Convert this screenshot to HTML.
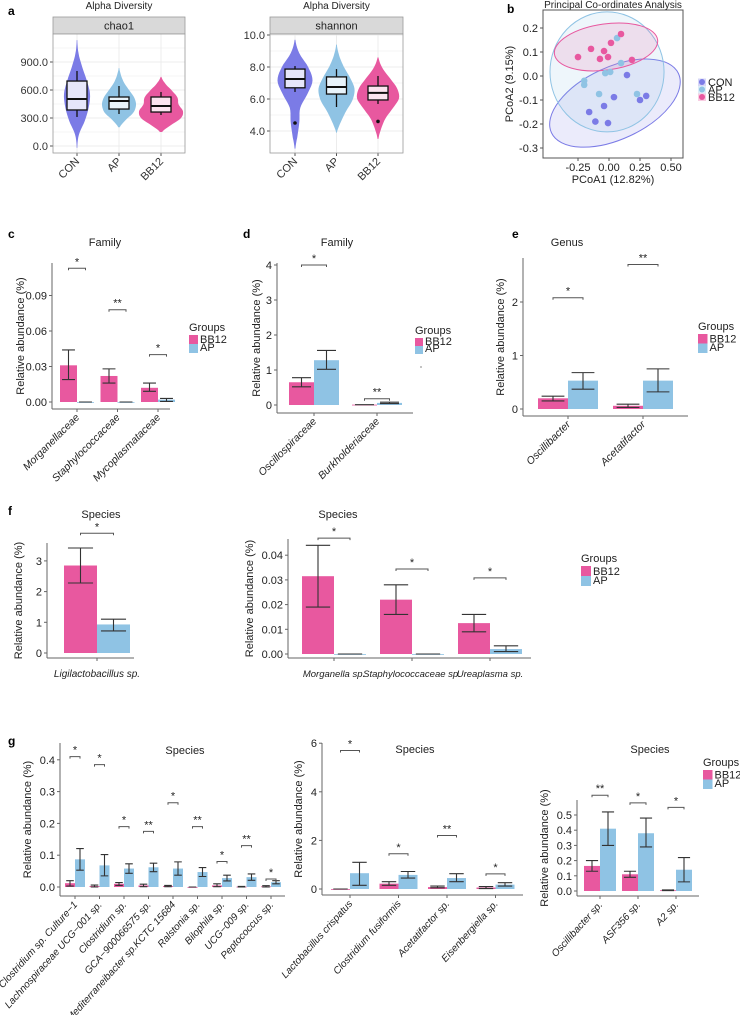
<!DOCTYPE html>
<html><head><meta charset="utf-8"><style>
html,body{margin:0;padding:0;background:#fff}
svg{display:block;font-family:"Liberation Sans",Arial,sans-serif}
</style></head><body>
<svg id="fig" width="740" height="1015" viewBox="0 0 740 1015" xmlns="http://www.w3.org/2000/svg"></svg>
<script>
// ---------- DATA ----------
const violinCats = ['CON','AP','BB12'];
const chao1Min = [311,343,332];
const chao1Q1 = [386,396,364];
const chao1Med = [504,482,429];
const chao1Q3 = [696,525,525];
const chao1Max = [804,643,579];
const chao1Lo = [-20,200,150];
const chao1Hi = [1135,836,740];
const chao1ProfCON = [0.02,0.15,0.6,0.9,1,0.75,0.4,0.12,0.02];
const chao1ProfAP = [0.05,0.4,0.85,1,0.9,0.6,0.3,0.12,0.02];
const chao1ProfBB12 = [0.05,0.45,0.9,1,0.8,0.75,0.5,0.2,0.02];
const chao1Ticks = [0,300,600,900];
const chao1TickLabels = ['0.0','300.0','600.0','900.0'];

const shanMin = [6.44,5.5,5.69];
const shanQ1 = [6.7,6.31,5.94];
const shanMed = [7.25,6.75,6.38];
const shanQ3 = [7.87,7.38,6.81];
const shanMax = [8.06,7.87,7.44];
const shanOut = [4.5,null,4.6];
const shanLo = [2.9,3.9,3.5];
const shanHi = [9.7,9.4,8.6];
const shanProfCON = [0.02,0.15,0.25,0.3,0.7,1,0.75,0.25,0.02];
const shanProfAP = [0.02,0.25,0.55,0.9,1,0.75,0.4,0.15,0.02];
const shanProfBB12 = [0.02,0.15,0.35,0.7,1,0.9,0.55,0.2,0.02];
const shanTicks = [4,6,8,10];
const shanTickLabels = ['4.0','6.0','8.0','10.0'];

const pcoaConX = [0.145,0.04,-0.04,-0.16,-0.11,-0.008,0.25,0.3];
const pcoaConY = [0.004,-0.088,-0.125,-0.15,-0.19,-0.196,-0.1,-0.083];
const pcoaApX = [-0.2,-0.2,-0.08,-0.03,0.01,0.065,0.097,0.226];
const pcoaApY = [-0.02,-0.037,-0.075,0.012,0.017,0.158,0.054,-0.075];
const pcoaBbX = [-0.25,-0.145,-0.073,-0.04,-0.008,0.016,0.097,0.185];
const pcoaBbY = [0.079,0.113,0.071,0.104,0.079,0.138,0.175,0.067];
const pcoaXTicks = [-0.25,0,0.25,0.5];
const pcoaXTickLabels = ['-0.25','0.00','0.25','0.50'];
const pcoaYTicks = [-0.3,-0.2,-0.1,0,0.1,0.2];
const pcoaYTickLabels = ['-0.3','-0.2','-0.1','0.0','0.1','0.2'];
const ellCx = [0.048,-0.016,-0.024];
const ellCy = [-0.113,0.017,0.121];
const ellRx = [0.565,0.46,0.42];
const ellRy = [0.15,0.25,0.096];
const ellAngle = [-25,0,-8];

const cCats = ['Morganellaceae','Staphylococcaceae','Mycoplasmataceae'];
const cBB = [0.031,0.022,0.012]; const cBBLo=[0.019,0.016,0.009]; const cBBHi=[0.044,0.028,0.016];
const cAP = [0,0,0.002]; const cAPLo=[0,0,0.0005]; const cAPHi=[0,0,0.003];
const cSig = ['*','**','*']; const cSigVal=[0.113,0.078,0.04];
const cTicks=[0,0.03,0.06,0.09]; const cTickLabels=['0.00','0.03','0.06','0.09'];

const dCats = ['Oscillospiraceae','Burkholderiaceae'];
const dBB=[0.65,0.01]; const dBBLo=[0.52,0.01]; const dBBHi=[0.78,0.01];
const dAP=[1.28,0.06]; const dAPLo=[1.02,0.04]; const dAPHi=[1.56,0.08];
const dSig=['*','**']; const dSigVal=[4.0,0.18];
const dTicks=[0,1,2,3,4]; const dTickLabels=['0','1','2','3','4'];

const eCats=['Oscillibacter','Acetatifactor'];
const eBB=[0.2,0.06]; const eBBLo=[0.15,0.03]; const eBBHi=[0.24,0.09];
const eAP=[0.53,0.53]; const eAPLo=[0.37,0.32]; const eAPHi=[0.68,0.75];
const eSig=['*','**']; const eSigVal=[2.08,2.7];
const eTicks=[0,1,2]; const eTickLabels=['0','1','2'];

const f1Cats=['Ligilactobacillus sp.'];
const f1BB=[2.85]; const f1BBLo=[2.28]; const f1BBHi=[3.42];
const f1AP=[0.93]; const f1APLo=[0.72]; const f1APHi=[1.1];
const f1Sig=['*']; const f1SigVal=[3.9];
const f1Ticks=[0,1,2,3]; const f1TickLabels=['0','1','2','3'];

const f2Cats=['Morganella sp.','Staphylococcaceae sp.','Ureaplasma sp.'];
const f2BB=[0.0315,0.022,0.0125]; const f2BBLo=[0.019,0.016,0.009]; const f2BBHi=[0.044,0.028,0.016];
const f2AP=[0,0,0.002]; const f2APLo=[0,0,0.001]; const f2APHi=[0,0,0.0033];
const f2Sig=['*','*','*']; const f2SigVal=[0.0469,0.0344,0.0308];
const f2Ticks=[0,0.01,0.02,0.03,0.04]; const f2TickLabels=['0.00','0.01','0.02','0.03','0.04'];

const g1Cats=['Clostridium sp. Culture\u22121','Lachnospiraceae UCG\u2212001 sp.','Clostridium sp.','GCA\u2212900066575 sp.','Mediterraneibacter sp.KCTC 15684','Ralstonia sp.','Bilophila sp.','UCG\u2212009 sp.','Peptococcus sp.'];
const g1BB=[0.012,0.003,0.01,0.005,0.003,0.0,0.005,0.001,0.002];
const g1BBLo=[0.003,0,0.005,0.001,0.001,0,0.001,0,0];
const g1BBHi=[0.02,0.006,0.014,0.009,0.005,0,0.01,0.002,0.004];
const g1AP=[0.087,0.068,0.058,0.062,0.058,0.047,0.028,0.031,0.015];
const g1APLo=[0.053,0.035,0.043,0.048,0.037,0.033,0.019,0.021,0.01];
const g1APHi=[0.121,0.102,0.073,0.075,0.079,0.061,0.037,0.041,0.02];
const g1Sig=['*','*','*','**','*','**','*','**','*'];
const g1SigVal=[0.41,0.385,0.19,0.175,0.265,0.19,0.08,0.13,0.025];
const g1Ticks=[0,0.1,0.2,0.3,0.4]; const g1TickLabels=['0.0','0.1','0.2','0.3','0.4'];

const g2Cats=['Lactobacillus crispatus','Clostridium fusiformis','Acetatifactor sp.','Eisenbergiella sp.'];
const g2BB=[0.0,0.22,0.08,0.06]; const g2BBLo=[0,0.15,0.05,0.02]; const g2BBHi=[0,0.3,0.12,0.1];
const g2AP=[0.65,0.58,0.45,0.18]; const g2APLo=[0.15,0.45,0.3,0.12]; const g2APHi=[1.1,0.72,0.63,0.26];
const g2Sig=['*','*','**','*']; const g2SigVal=[5.7,1.45,2.2,0.62];
const g2Ticks=[0,2,4,6]; const g2TickLabels=['0','2','4','6'];

const g3Cats=['Oscillibacter sp.','ASF356 sp.','A2 sp.'];
const g3BB=[0.165,0.11,0.005]; const g3BBLo=[0.13,0.09,0.003]; const g3BBHi=[0.2,0.13,0.007];
const g3AP=[0.41,0.38,0.14]; const g3APLo=[0.3,0.29,0.06]; const g3APHi=[0.52,0.48,0.22];
const g3Sig=['**','*','*']; const g3SigVal=[0.63,0.58,0.55];
const g3Ticks=[0,0.1,0.2,0.3,0.4,0.5]; const g3TickLabels=['0.0','0.1','0.2','0.3','0.4','0.5'];

// ---------- HELPERS ----------
const NS='http://www.w3.org/2000/svg';
const svg=document.getElementById('fig');
const PINK='#e8589f', BLUE='#8fc3e4', PURPLE='#7b7be6';
function mk(tag, attrs, parent){const e=document.createElementNS(NS,tag);for(const k in attrs)e.setAttribute(k,attrs[k]);(parent||svg).appendChild(e);return e;}
function tx(str,x,y,attrs,parent){const e=mk('text',Object.assign({x:x,y:y,'font-size':11,fill:'#222'},attrs||{}),parent);e.textContent=str;return e;}
function catmull(p,n){const out=[];const m=p.length-1;for(let i=0;i<=n;i++){const t=i/n*m;const k=Math.min(Math.floor(t),m-1);const u=t-k;const p0=p[Math.max(k-1,0)],p1=p[k],p2=p[k+1],p3=p[Math.min(k+2,m)];out.push(0.5*((2*p1)+(-p0+p2)*u+(2*p0-5*p1+4*p2-p3)*u*u+(-p0+3*p1-3*p2+p3)*u*u*u));}return out;}

function panelLetter(ch,x,y){const e=tx(ch,x,y,{'font-weight':'bold','font-size':12,fill:'#000'});

}

// ---------- VIOLIN PANEL ----------
function violinPanel(o){
  const g=mk('g',{});
  
  
  const yv=v=>o.y0+(o.vMax-v)*o.ppu;
  const t=tx('Alpha Diversity',(o.x1+o.x2)/2,9,{'text-anchor':'middle','font-size':10},g);
  
  
  const strip=mk('rect',{x:o.x1,y:17,width:o.x2-o.x1,height:17,fill:'#d9d9d9',stroke:'#999','stroke-width':0.8},g);
  
  
  const st=tx(o.strip,(o.x1+o.x2)/2,29.5,{'text-anchor':'middle','font-size':11},g);
  
  
  const bg=mk('rect',{x:o.x1,y:34,width:o.x2-o.x1,height:119,fill:'#fff'},g);
  
  
  for(let i=0;i<o.ticks.length;i++){
    const y=yv(o.ticks[i]);
    const gl=mk('line',{x1:o.x1,x2:o.x2,y1:y,y2:y,stroke:'#ececec','stroke-width':1},g);
    
    
    const ym=yv(o.ticks[i]+o.step/2);
    if(ym>34&&ym<153){const gm=mk('line',{x1:o.x1,x2:o.x2,y1:ym,y2:ym,stroke:'#f5f5f5','stroke-width':1},g);
    
    }
    const tk=mk('line',{x1:o.x1-3,x2:o.x1,y1:y,y2:y,stroke:'#555'},g);
    
    
    const tl=tx(o.tickLabels[i],o.x1-5,y+4,{'text-anchor':'end','font-size':11,fill:'#333'},g);
    
    
  }
  const cols=[PURPLE,BLUE,PINK];
  const boxFill=['#e6e6fa','#e8f3fa','#fbe4ef'];
  for(let i=0;i<violinCats.length;i++){
    const cx=o.cx0+i*o.dx;
    const gl=mk('line',{x1:cx,x2:cx,y1:34,y2:153,stroke:'#ececec'},g);
    
    
  }
  for(let i=0;i<violinCats.length;i++){
    const cx=o.cx0+i*o.dx;
    const prof=catmull(o.prof[i],40);
    const lo=o.lo[i],hi=o.hi[i];
    let d='';
    prof.forEach((w,k)=>{const v=lo+(hi-lo)*k/40;d+=(k?'L':'M')+(cx+o.hw[i]*Math.max(w,0.01)).toFixed(1)+' '+yv(v).toFixed(1);});
    for(let k=40;k>=0;k--){const v=lo+(hi-lo)*k/40;d+='L'+(cx-o.hw[i]*Math.max(prof[k],0.01)).toFixed(1)+' '+yv(v).toFixed(1);}
    const vp=mk('path',{d:d+'Z',fill:cols[i],stroke:'none'},g);
    
    
    const wl=mk('line',{x1:cx,x2:cx,y1:yv(o.min[i]),y2:yv(o.max[i]),stroke:'#111','stroke-width':1.3},g);
    
    
    const bw=20;
    const bx=mk('rect',{x:cx-bw/2,y:yv(o.q3[i]),width:bw,height:yv(o.q1[i])-yv(o.q3[i]),fill:boxFill[i],stroke:'#111','stroke-width':1.3},g);
    
    
    const md=mk('line',{x1:cx-bw/2,x2:cx+bw/2,y1:yv(o.med[i]),y2:yv(o.med[i]),stroke:'#111','stroke-width':2},g);
    
    
    if(o.out&&o.out[i]!=null){const oc=mk('circle',{cx:cx,cy:yv(o.out[i]),r:1.8,fill:'#111'},g);
    
    }
    const xt=mk('line',{x1:cx,x2:cx,y1:153,y2:156,stroke:'#555'},g);
    
    
    const xl=tx(violinCats[i],cx+3,162,{'text-anchor':'end','font-size':11,fill:'#333',transform:'rotate(-45 '+(cx+3)+' 162)'},g);
    
    
  }
  const fr=mk('rect',{x:o.x1,y:34,width:o.x2-o.x1,height:119,fill:'none',stroke:'#999','stroke-width':0.8},g);
  
  
}

// ---------- BAR PANEL ----------
function legend(x,y,sw,g){
  const lt=tx('Groups',x,y,{'font-size':11},g);
  
  
  const r1=mk('rect',{x:x,y:y+4,width:sw,height:sw,fill:PINK},g);
  
  
  const l1=tx('BB12',x+sw+2,y+4+sw-1,{'font-size':11},g);
  
  
  const r2=mk('rect',{x:x,y:y+4+sw,width:sw,height:sw,fill:BLUE},g);
  
  
  const l2=tx('AP',x+sw+2,y+4+2*sw-2,{'font-size':11},g);
  
  
}
function barPanel(o){
  const g=mk('g',{});
  
  
  const yv=v=>o.y0-v*o.ppu;
  if(o.title){const t=tx(o.title[0],o.title[1],o.title[2],{'text-anchor':'middle','font-size':11},g);
  
  }
  const ya=mk('line',{x1:o.x0,x2:o.x0,y1:o.yTop,y2:o.yBot,stroke:'#666','stroke-width':1},g);
  
  
  const xa=mk('line',{x1:o.x0,x2:o.xEnd,y1:o.yBot,y2:o.yBot,stroke:'#666','stroke-width':1},g);
  
  
  for(let i=0;i<o.ticks.length;i++){
    const y=yv(o.ticks[i]);
    const tk=mk('line',{x1:o.x0-3,x2:o.x0,y1:y,y2:y,stroke:'#666'},g);
    
    
    const tl=tx(o.tickLabels[i],o.x0-5,y+4,{'text-anchor':'end','font-size':11,fill:'#222'},g);
    
    
  }
  const ym=(o.yTop+o.yBot)/2;
  const yt=tx('Relative abundance (%)',o.yLabX,ym,{'text-anchor':'middle','font-size':11,transform:'rotate(-90 '+o.yLabX+' '+ym+')'},g);
  
  
  const w=o.w;
  for(let i=0;i<o.cats.length;i++){
    const c=o.c0+i*o.dc;
    const b1=mk('rect',{x:c-w,y:yv(o.bb[i]),width:w,height:Math.max(o.bb[i]*o.ppu,0.8),fill:PINK},g);
    
    
    const b2=mk('rect',{x:c,y:yv(o.ap[i]),width:w,height:Math.max(o.ap[i]*o.ppu,0.8),fill:BLUE},g);
    
    
    [[c-w/2,o.bbLo[i],o.bbHi[i]],[c+w/2,o.apLo[i],o.apHi[i]]].forEach(function(eb,k){
      const cw=w*0.38;
      const v=mk('path',{d:'M'+(eb[0]-cw)+' '+yv(eb[2])+'H'+(eb[0]+cw)+'M'+eb[0]+' '+yv(eb[2])+'V'+yv(eb[1])+'M'+(eb[0]-cw)+' '+yv(eb[1])+'H'+(eb[0]+cw),stroke:'#333','stroke-width':1.1,fill:'none'},g);
      
      
    });
    const sy=yv(o.sigVal[i]);
    const br=mk('path',{d:'M'+(c-w/2)+' '+(sy+2)+'V'+sy+'H'+(c+w/2)+'V'+(sy+2),stroke:'#555','stroke-width':1,fill:'none'},g);
    
    
    const sg=tx(o.sig[i],c,sy-3,{'text-anchor':'middle','font-size':11,fill:'#222'},g);
    
    
    const xt=mk('line',{x1:c,x2:c,y1:o.yBot,y2:o.yBot+3,stroke:'#666'},g);
    
    
    let xl;
    if(o.flat){xl=tx(o.cats[i],c,o.labY,{'text-anchor':'middle','font-size':o.fs||10.5,'font-style':'italic'},g);}
    else{const ly=o.yBot+9;xl=tx(o.cats[i],c+3,ly,{'text-anchor':'end','font-size':o.fs||10.5,'font-style':'italic',transform:'rotate('+(o.rot||-45)+' '+(c+3)+' '+ly+')'},g);}
    
    
  }
  if(o.legend)legend(o.legend[0],o.legend[1],o.legend[2],g);
}

// ---------- BUILD ----------
panelLetter('a',8,15);
violinPanel({name:'chao1-violin-chart',x1:53,x2:185,y0:146,vMax:0,ppu:28/300,step:300,strip:'chao1',ticks:chao1Ticks,tickLabels:chao1TickLabels,
 cx0:77,dx:42,hw:[13,17,22],lo:chao1Lo,hi:chao1Hi,prof:[chao1ProfCON,chao1ProfAP,chao1ProfBB12],
 min:chao1Min,q1:chao1Q1,med:chao1Med,q3:chao1Q3,max:chao1Max,out:null});
violinPanel({name:'shannon-violin-chart',x1:270,x2:403,y0:35,vMax:10,ppu:16,step:2,strip:'shannon',ticks:shanTicks,tickLabels:shanTickLabels,
 cx0:295,dx:41.5,hw:[17.5,18,21],lo:shanLo,hi:shanHi,prof:[shanProfCON,shanProfAP,shanProfBB12],
 min:shanMin,q1:shanQ1,med:shanMed,q3:shanQ3,max:shanMax,out:shanOut});

// PCoA
panelLetter('b',507,13);
(function(){
  const g=mk('g',{});
  
  
  const xs=v=>609+v*124, ys=v=>76-v*240;
  const t=tx('Principal Co-ordinates Analysis',613,8,{'text-anchor':'middle','font-size':10},g);
  
  
  const cols=[PURPLE,BLUE,PINK];
  const names=['con','ap','bb12'];
  for(let i=0;i<3;i++){
    const e=mk('ellipse',{cx:xs(ellCx[i]),cy:ys(ellCy[i]),rx:ellRx[i]*124,ry:ellRy[i]*240,fill:cols[i],'fill-opacity':0.15,stroke:cols[i],'stroke-width':1,transform:'rotate('+ellAngle[i]+' '+xs(ellCx[i])+' '+ys(ellCy[i])+')'},g);
    
    
  }
  const sets=[[pcoaConX,pcoaConY],[pcoaApX,pcoaApY],[pcoaBbX,pcoaBbY]];
  sets.forEach(function(s,i){for(let k=0;k<s[0].length;k++){
    const p=mk('circle',{cx:xs(s[0][k]),cy:ys(s[1][k]),r:3.3,fill:cols[i]},g);
    
    
  }});
  const fr=mk('rect',{x:543,y:10,width:140,height:148,fill:'none',stroke:'#555','stroke-width':1},g);
  
  
  for(let i=0;i<pcoaXTicks.length;i++){const x=xs(pcoaXTicks[i]);
    const tk=mk('line',{x1:x,x2:x,y1:158,y2:161,stroke:'#555'},g);
    
    
    const tl=tx(pcoaXTickLabels[i],x,171,{'text-anchor':'middle','font-size':11},g);
    
    }
  for(let i=0;i<pcoaYTicks.length;i++){const y=ys(pcoaYTicks[i]);
    const tk=mk('line',{x1:540,x2:543,y1:y,y2:y,stroke:'#555'},g);
    
    
    const tl=tx(pcoaYTickLabels[i],538,y+4,{'text-anchor':'end','font-size':11},g);
    
    }
  const xt=tx('PCoA1 (12.82%)',613,183,{'text-anchor':'middle','font-size':11},g);
  
  
  const yt=tx('PCoA2 (9.15%)',513,84,{'text-anchor':'middle','font-size':11,transform:'rotate(-90 513 84)'},g);
  
  
  ['CON','AP','BB12'].forEach(function(n,i){
    const y=82+i*7.5;
    const lb=mk('rect',{x:698,y:y-3.5,width:8,height:7.5,fill:cols[i],'fill-opacity':0.3},g);
    
    
    const lc=mk('circle',{cx:702,cy:y,r:3,fill:cols[i]},g);
    
    
    const lt=tx(n,708,y+4,{'font-size':11},g);
    
    
  });
})();

panelLetter('c',8,238); panelLetter('d',243,238); panelLetter('e',512,238);
barPanel({name:'family-bar-chart-c',title:['Family',105,246],x0:52,xEnd:170,yTop:263,yBot:409,y0:402,ppu:35.5/0.03,yLabX:24,
 ticks:cTicks,tickLabels:cTickLabels,cats:cCats,c0:77,dc:40.5,w:17,bb:cBB,bbLo:cBBLo,bbHi:cBBHi,ap:cAP,apLo:cAPLo,apHi:cAPHi,sig:cSig,sigVal:cSigVal,legend:[189,331,9]});
barPanel({name:'family-bar-chart-d',title:['Family',337,246],x0:277,xEnd:413,yTop:263,yBot:413,y0:405,ppu:35,yLabX:260,
 ticks:dTicks,tickLabels:dTickLabels,cats:dCats,c0:314,dc:63,w:25,bb:dBB,bbLo:dBBLo,bbHi:dBBHi,ap:dAP,apLo:dAPLo,apHi:dAPHi,sig:dSig,sigVal:dSigVal,legend:[415,334,8]});
(function(){const d=mk('circle',{cx:421,cy:367,r:0.6,fill:'#333'});

})();
barPanel({name:'genus-bar-chart-e',title:['Genus',567,246],x0:523,xEnd:688,yTop:258,yBot:416,y0:409,ppu:53.5,yLabX:504,
 ticks:eTicks,tickLabels:eTickLabels,cats:eCats,c0:568,dc:75,w:30,bb:eBB,bbLo:eBBLo,bbHi:eBBHi,ap:eAP,apLo:eAPLo,apHi:eAPHi,sig:eSig,sigVal:eSigVal,legend:[698,330,9.5]});

panelLetter('f',8,515);
barPanel({name:'species-bar-chart-f1',title:['Species',101,518],x0:47,xEnd:134,yTop:543,yBot:658,y0:653,ppu:30.7,yLabX:22,flat:true,labY:677,fs:10,
 ticks:f1Ticks,tickLabels:f1TickLabels,cats:f1Cats,c0:97,dc:0,w:33,bb:f1BB,bbLo:f1BBLo,bbHi:f1BBHi,ap:f1AP,apLo:f1APLo,apHi:f1APHi,sig:f1Sig,sigVal:f1SigVal});
barPanel({name:'species-bar-chart-f2',title:['Species',338,518],x0:288,xEnd:531,yTop:539,yBot:658,y0:654,ppu:2470,yLabX:253,flat:true,labY:677,fs:9.5,
 ticks:f2Ticks,tickLabels:f2TickLabels,cats:f2Cats,c0:334,dc:78,w:32,bb:f2BB,bbLo:f2BBLo,bbHi:f2BBHi,ap:f2AP,apLo:f2APLo,apHi:f2APHi,sig:f2Sig,sigVal:f2SigVal,legend:[581,562,10]});

panelLetter('g',8,745);
barPanel({name:'species-bar-chart-g1',title:['Species',185,754],x0:60,xEnd:285,yTop:743,yBot:896,y0:887,ppu:318,yLabX:31,rot:-48,fs:10,
 ticks:g1Ticks,tickLabels:g1TickLabels,cats:g1Cats,c0:75,dc:24.5,w:10,bb:g1BB,bbLo:g1BBLo,bbHi:g1BBHi,ap:g1AP,apLo:g1APLo,apHi:g1APHi,sig:g1Sig,sigVal:g1SigVal});
barPanel({name:'species-bar-chart-g2',title:['Species',415,753],x0:322,xEnd:523,yTop:743,yBot:895,y0:889,ppu:24.3,yLabX:302,rot:-48,fs:10,
 ticks:g2Ticks,tickLabels:g2TickLabels,cats:g2Cats,c0:350,dc:48.5,w:19,bb:g2BB,bbLo:g2BBLo,bbHi:g2BBHi,ap:g2AP,apLo:g2APLo,apHi:g2APHi,sig:g2Sig,sigVal:g2SigVal});
barPanel({name:'species-bar-chart-g3',title:['Species',650,753],x0:577,xEnd:699,yTop:800,yBot:896,y0:891,ppu:152,yLabX:548,rot:-48,fs:10,
 ticks:g3Ticks,tickLabels:g3TickLabels,cats:g3Cats,c0:600,dc:38,w:16,bb:g3BB,bbLo:g3BBLo,bbHi:g3BBHi,ap:g3AP,apLo:g3APLo,apHi:g3APHi,sig:g3Sig,sigVal:g3SigVal,legend:[703,766,9.5]});
</script>
</body></html>
